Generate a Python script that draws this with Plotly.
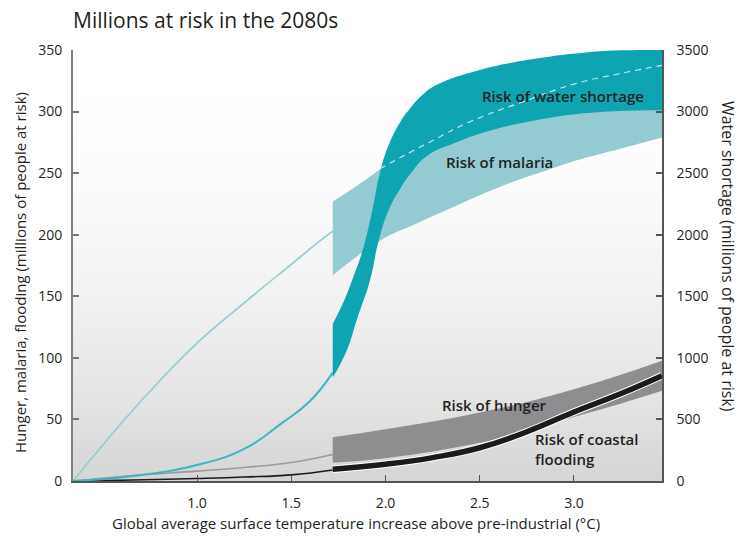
import plotly.graph_objects as go

# ---- data (temperature increase in °C, people at risk in millions) ----
# Pre-band central curves
pre_temp = [0.342, 0.61, 0.8, 1.0, 1.265, 1.5, 1.652, 1.72]
malaria_pre = [0, 49, 81, 112, 146.5, 176, 195, 203]

water_pre_temp = [0.342, 0.66, 1.0, 1.25, 1.45, 1.6, 1.72]
water_pre = [0, 40, 130, 260, 470, 650, 880]

hunger_pre_temp = [0.342, 0.66, 1.0, 1.25, 1.5, 1.72]
hunger_pre = [0, 4.5, 8, 11, 15, 21.5]

coastal_pre_temp = [0.342, 0.66, 1.0, 1.25, 1.5, 1.72]
coastal_pre = [0, 0.8, 2, 3.2, 5, 9]

# Malaria range
malaria_temp_lo = [1.72, 1.97, 2.15, 2.324, 2.5, 2.678, 2.85, 3.03, 3.25, 3.467]
malaria_lo = [167, 195, 208, 220, 232, 243, 252, 261, 270, 279]
malaria_temp_hi = [1.72, 1.85, 1.96, 2.1, 2.3, 2.6, 3.0, 3.467]
malaria_hi = [227, 240, 252, 268, 285, 300, 310, 315]

# Water shortage range (right axis)
water_temp_hi = [1.72, 1.785, 1.83, 1.88, 1.93, 1.97, 2.02, 2.08,
                 2.13, 2.2, 2.27, 2.5, 2.8, 3.066, 3.25, 3.467]
water_hi = [1275, 1480, 1660, 1880, 2200, 2500, 2740, 2920,
            3025, 3140, 3215, 3337, 3430, 3480, 3497, 3500]
water_temp_lo = [1.72, 1.794, 1.85, 1.918, 1.965, 2.024, 2.077, 2.13,
                 2.22, 2.377, 2.5, 2.8, 3.155, 3.467]
water_lo = [840, 1058, 1320, 1630, 1960, 2225, 2370, 2490,
            2640, 2750, 2820, 2930, 2998, 3010]
water_mid_temp = [1.97, 2.253, 2.448, 2.73, 3.013, 3.25, 3.467]
water_mid = [2537, 2767, 2917, 3080, 3229, 3310, 3375]

# Hunger range
hunger_temp = [1.72, 2.0, 2.5, 3.0, 3.467]
hunger_hi = [35.5, 42, 55.6, 74.6, 97.7]
hunger_temp_lo = [1.72, 2.0, 2.5, 2.766, 3.0, 3.25, 3.467]
hunger_lo = [14.9, 18.5, 31, 41, 52, 63, 73.3]

# Coastal flooding
coastal_temp = [1.72, 2.0, 2.25, 2.5, 2.75, 3.0, 3.25, 3.467]
coastal = [9.5, 13.6, 19, 27, 40, 56, 71, 85.5]

# Axes
x_ticks = [1.0, 1.5, 2.0, 2.5, 3.0]
x_tick_text = ["1.0", "1.5", "2.0", "2.5", "3.0"]
y_ticks = [0, 50, 100, 150, 200, 250, 300, 350]
y2_ticks = [0, 500, 1000, 1500, 2000, 2500, 3000, 3500]

X_RANGE = [0.342, 3.467]
Y_MAX = 350

FONT = "Open Sans"
TEXT = "#231f20"
WATER = "#0ea4b1"
MALARIA = "#94cbd3"
HUNGER = "#8e8e91"
BLACK = "#1b1b1b"
SMOOTH = 1.3

fig = go.Figure()


def band(xl, yl, xh, yh, color, yaxis="y"):
    fig.add_trace(go.Scatter(x=xl, y=yl, mode="lines", yaxis=yaxis,
                             line=dict(width=0, shape="spline", smoothing=SMOOTH),
                             hoverinfo="skip", showlegend=False))
    fig.add_trace(go.Scatter(x=xh, y=yh, mode="lines", yaxis=yaxis,
                             line=dict(width=0, shape="spline", smoothing=SMOOTH),
                             fill="tonexty", fillcolor=color,
                             hoverinfo="skip", showlegend=False))


def curve(x, y, color, width, yaxis="y", dash="solid"):
    fig.add_trace(go.Scatter(x=x, y=y, mode="lines", yaxis=yaxis,
                             line=dict(color=color, width=width, dash=dash,
                                       shape="spline", smoothing=SMOOTH),
                             hoverinfo="skip", showlegend=False))


# left-axis series
curve(pre_temp, malaria_pre, "#8fcdd4", 1.6)
band(malaria_temp_lo, malaria_lo, malaria_temp_hi, malaria_hi, MALARIA)
curve(hunger_pre_temp, hunger_pre, "#9a9a9c", 1.6)
band(hunger_temp_lo, hunger_lo, hunger_temp, hunger_hi, HUNGER)
curve(coastal_pre_temp, coastal_pre, BLACK, 1.6)
curve(coastal_temp, coastal, "white", 7.5)
curve(coastal_temp, coastal, BLACK, 5.5)

# right-axis series (water shortage)
curve(water_pre_temp, water_pre, "#3db5c1", 2, yaxis="y2")
band(water_temp_lo, water_lo, water_temp_hi, water_hi, WATER, yaxis="y2")
curve(water_mid_temp, water_mid, "rgba(255,255,255,0.8)", 1.1, yaxis="y2", dash="6px,5px")

# vertical grey gradient behind the plot (strips overlap to avoid seams)
shapes = []
n = 70
step = Y_MAX / n
for i in range(n):
    y0 = step * i
    y1 = min(Y_MAX, step * (i + 1.6))
    t = 1 - (step * (i + 0.5)) / Y_MAX
    g = round(255 - 42 * t ** 2)
    shapes.append(dict(type="rect", xref="paper", yref="y", x0=0, x1=1,
                       y0=y0, y1=y1, fillcolor=f"rgb({g},{g},{g})",
                       line=dict(width=0), layer="below"))

annotations = [
    dict(text="Millions at risk in the 2080s", xref="paper", yref="paper",
         x=-0.003, y=1.07, xanchor="left", yanchor="middle", showarrow=False,
         font=dict(family=FONT, size=21, color=TEXT)),
    dict(text="Hunger, malaria, flooding (millions of people at risk)",
         xref="paper", yref="paper", x=-0.09, y=0.485, textangle=-90,
         xanchor="center", yanchor="middle", showarrow=False,
         font=dict(family=FONT, size=15, color=TEXT)),
    dict(text="Water shortage (millions of people at risk)",
         xref="paper", yref="paper", x=1.112, y=0.52, textangle=90,
         xanchor="center", yanchor="middle", showarrow=False,
         font=dict(family=FONT, size=16, color=TEXT)),
    dict(text="Global average surface temperature increase above pre-industrial (°C)",
         xref="paper", yref="paper", x=0.4805, y=-0.0974,
         xanchor="center", yanchor="middle", showarrow=False,
         font=dict(family=FONT, size=15, color=TEXT)),
    dict(text="Risk of water shortage", x=2.94, y=3130, xref="x", yref="y2",
         xanchor="center", yanchor="middle", showarrow=False,
         font=dict(family=FONT, size=15, color=TEXT, weight=600)),
    dict(text="Risk of malaria", x=2.607, y=259, xref="x", yref="y",
         xanchor="center", yanchor="middle", showarrow=False,
         font=dict(family=FONT, size=15, color=TEXT, weight=600)),
    dict(text="Risk of hunger", x=2.578, y=62, xref="x", yref="y",
         xanchor="center", yanchor="middle", showarrow=False,
         font=dict(family=FONT, size=15, color=TEXT, weight=600)),
    dict(text="Risk of coastal<br>flooding", x=2.782, y=26, xref="x", yref="y",
         xanchor="left", yanchor="middle", align="left", showarrow=False,
         font=dict(family=FONT, size=15, color=TEXT, weight=600)),
]

fig.update_layout(
    width=742, height=539,
    margin=dict(l=73, r=80, t=50, b=58),
    paper_bgcolor="white", plot_bgcolor="white",
    font=dict(family=FONT, size=14, color=TEXT),
    showlegend=False,
    shapes=shapes,
    annotations=annotations,
    xaxis=dict(range=X_RANGE, tickvals=x_ticks, ticktext=x_tick_text,
               ticks="inside", ticklen=6, tickcolor="#555", tickwidth=1,
               showline=True, linecolor="#555", linewidth=1.5,
               showgrid=False, zeroline=False, ticklabelstandoff=8,
               tickfont=dict(family=FONT, size=14, color=TEXT)),
    yaxis=dict(range=[0, Y_MAX], tickvals=y_ticks,
               ticks="inside", ticklen=6, tickcolor="#777", tickwidth=1.5,
               showline=True, linecolor="#808080", linewidth=2,
               showgrid=False, zeroline=False, ticklabelstandoff=6,
               tickfont=dict(family=FONT, size=14, color=TEXT)),
    yaxis2=dict(range=[0, Y_MAX * 10], tickvals=y2_ticks, overlaying="y",
                side="right", ticks="inside", ticklen=6, tickcolor="#555",
                tickwidth=1.5, showline=True, linecolor="#555", linewidth=1.5,
                showgrid=False, zeroline=False, ticklabelstandoff=10,
                tickfont=dict(family=FONT, size=14, color=TEXT)),
)

fig.write_html("out.html")
